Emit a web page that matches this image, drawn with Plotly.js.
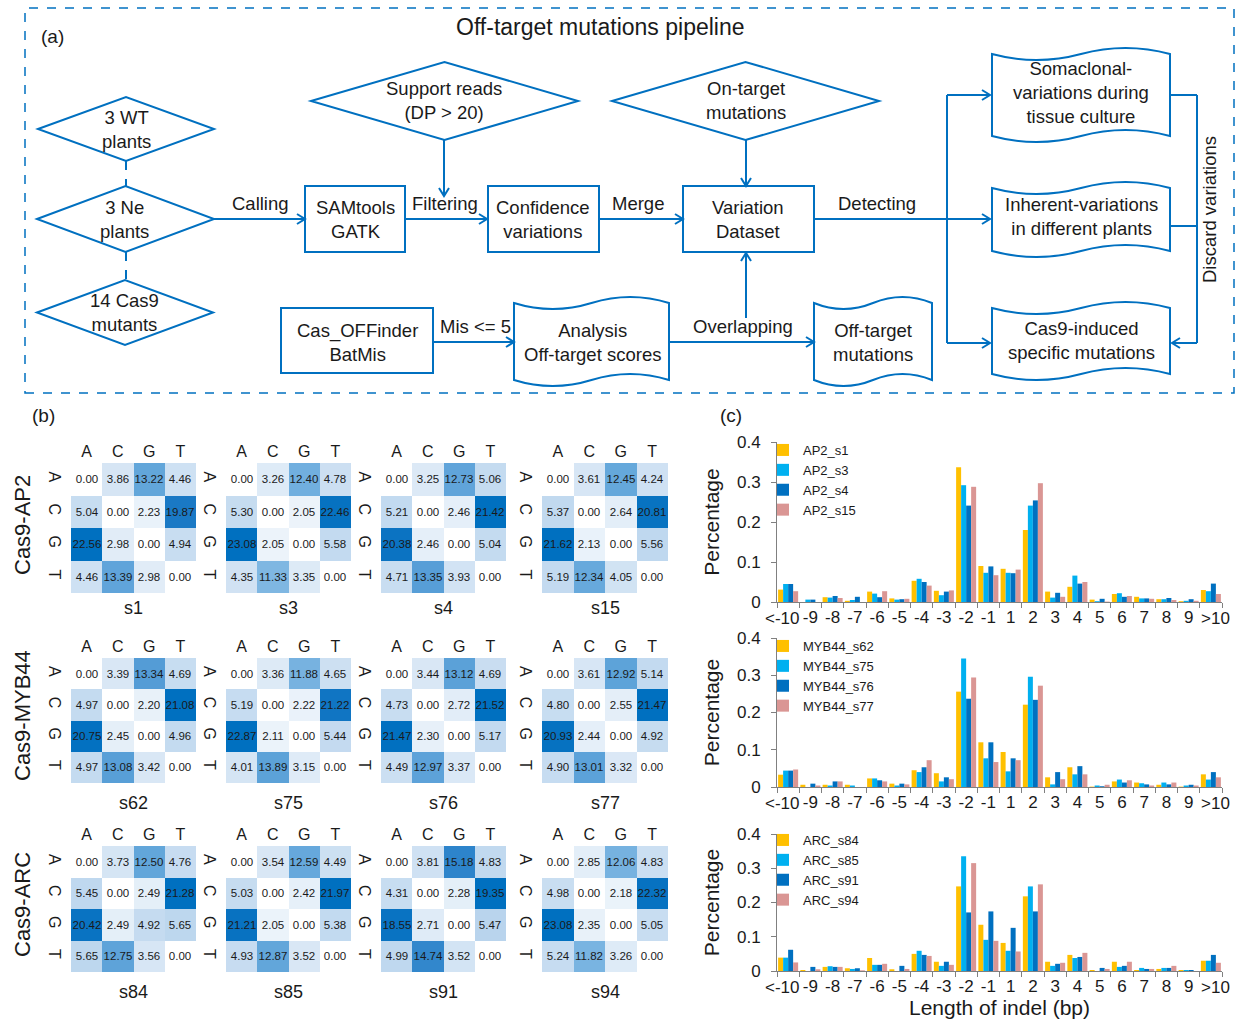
<!DOCTYPE html>
<html><head><meta charset="utf-8">
<script src="https://cdn.plot.ly/plotly-3.0.1.min.js"></script>
<style>html,body{margin:0;padding:0;background:#fff}#chart{width:1238px;height:1021px}</style>
</head><body><div id="chart"></div>
<script>
// ---------- DATA ----------
const bases = ['A','C','G','T'];
const groupNames = ['Cas9-AP2','Cas9-MYB44','Cas9-ARC'];
const sampleNames = ['s1','s3','s4','s15','s62','s75','s76','s77','s84','s85','s91','s94'];
const s1  = [[0.00,3.86,13.22,4.46],[5.04,0.00,2.23,19.87],[22.56,2.98,0.00,4.94],[4.46,13.39,2.98,0.00]];
const s3  = [[0.00,3.26,12.40,4.78],[5.30,0.00,2.05,22.46],[23.08,2.05,0.00,5.58],[4.35,11.33,3.35,0.00]];
const s4  = [[0.00,3.25,12.73,5.06],[5.21,0.00,2.46,21.42],[20.38,2.46,0.00,5.04],[4.71,13.35,3.93,0.00]];
const s15 = [[0.00,3.61,12.45,4.24],[5.37,0.00,2.64,20.81],[21.62,2.13,0.00,5.56],[5.19,12.34,4.05,0.00]];
const s62 = [[0.00,3.39,13.34,4.69],[4.97,0.00,2.20,21.08],[20.75,2.45,0.00,4.96],[4.97,13.08,3.42,0.00]];
const s75 = [[0.00,3.36,11.88,4.65],[5.19,0.00,2.22,21.22],[22.87,2.11,0.00,5.44],[4.01,13.89,3.15,0.00]];
const s76 = [[0.00,3.44,13.12,4.69],[4.73,0.00,2.72,21.52],[21.47,2.30,0.00,5.17],[4.49,12.97,3.37,0.00]];
const s77 = [[0.00,3.61,12.92,5.14],[4.80,0.00,2.55,21.47],[20.93,2.44,0.00,4.92],[4.90,13.01,3.32,0.00]];
const s84 = [[0.00,3.73,12.50,4.76],[5.45,0.00,2.49,21.28],[20.42,2.49,4.92,5.65],[5.65,12.75,3.56,0.00]];
const s85 = [[0.00,3.54,12.59,4.49],[5.03,0.00,2.42,21.97],[21.21,2.05,0.00,5.38],[4.93,12.87,3.52,0.00]];
const s91 = [[0.00,3.81,15.18,4.83],[4.31,0.00,2.28,19.35],[18.55,2.71,0.00,5.47],[4.99,14.74,3.52,0.00]];
const s94 = [[0.00,2.85,12.06,4.83],[4.98,0.00,2.18,22.32],[23.08,2.35,0.00,5.05],[5.24,11.82,3.26,0.00]];
const matrices = [s1,s3,s4,s15,s62,s75,s76,s77,s84,s85,s91,s94];

const indelLengths = ['<-10','-9','-8','-7','-6','-5','-4','-3','-2','-1','1','2','3','4','5','6','7','8','9','>10'];
const AP2_s1  = [0.031,0.000,0.012,0.003,0.026,0.009,0.053,0.028,0.337,0.090,0.083,0.180,0.026,0.038,0.006,0.020,0.013,0.007,0.002,0.030];
const AP2_s3  = [0.045,0.006,0.011,0.005,0.021,0.006,0.058,0.017,0.292,0.073,0.073,0.241,0.011,0.066,0.002,0.022,0.009,0.007,0.003,0.027];
const AP2_s4  = [0.045,0.006,0.015,0.013,0.012,0.007,0.050,0.026,0.241,0.089,0.072,0.254,0.023,0.046,0.008,0.013,0.009,0.010,0.007,0.046];
const AP2_s15 = [0.027,0.000,0.010,0.000,0.027,0.008,0.041,0.029,0.288,0.067,0.081,0.297,0.013,0.050,0.001,0.015,0.008,0.005,0.003,0.020];
const MYB44_s62 = [0.033,0.006,0.006,0.006,0.023,0.009,0.045,0.037,0.256,0.120,0.094,0.221,0.026,0.053,0.001,0.015,0.012,0.006,0.001,0.034];
const MYB44_s75 = [0.044,0.000,0.004,0.004,0.023,0.004,0.040,0.015,0.345,0.077,0.042,0.296,0.007,0.034,0.004,0.020,0.010,0.012,0.004,0.020];
const MYB44_s76 = [0.044,0.009,0.015,0.000,0.018,0.009,0.053,0.026,0.237,0.120,0.077,0.234,0.040,0.056,0.002,0.012,0.007,0.007,0.006,0.040];
const MYB44_s77 = [0.047,0.004,0.015,0.000,0.015,0.007,0.072,0.021,0.294,0.067,0.072,0.272,0.021,0.034,0.006,0.018,0.004,0.012,0.004,0.026];
const ARC_s84 = [0.039,0.003,0.012,0.008,0.038,0.005,0.050,0.027,0.247,0.135,0.082,0.218,0.027,0.047,0.003,0.027,0.003,0.006,0.003,0.030];
const ARC_s85 = [0.039,0.000,0.014,0.006,0.018,0.000,0.059,0.015,0.335,0.091,0.059,0.247,0.015,0.038,0.000,0.012,0.009,0.009,0.003,0.030];
const ARC_s91 = [0.062,0.012,0.012,0.008,0.018,0.015,0.047,0.027,0.171,0.174,0.126,0.174,0.021,0.041,0.009,0.015,0.006,0.009,0.003,0.047];
const ARC_s94 = [0.025,0.005,0.012,0.002,0.021,0.006,0.044,0.018,0.315,0.088,0.057,0.253,0.024,0.053,0.006,0.027,0.006,0.015,0.000,0.024];
const seriesNames = [['AP2_s1','AP2_s3','AP2_s4','AP2_s15'],['MYB44_s62','MYB44_s75','MYB44_s76','MYB44_s77'],['ARC_s84','ARC_s85','ARC_s91','ARC_s94']];
const seriesValues = [[AP2_s1,AP2_s3,AP2_s4,AP2_s15],[MYB44_s62,MYB44_s75,MYB44_s76,MYB44_s77],[ARC_s84,ARC_s85,ARC_s91,ARC_s94]];

// ---------- STYLE / LAYOUT HELPERS ----------
const W = 1238, H = 1021;
const X = p => p / W, Y = p => 1 - p / H;
const FONT = 'Liberation Sans, Arial, Helvetica, sans-serif';
const BLUE = '#0070c0';
const barColors = ['#ffc000','#00b0f0','#0070c0','#da9694'];
const hmScale = [[0,'#ffffff'],[0.08,'#eef5fb'],[0.15,'#dce9f6'],[0.22,'#c8ddf1'],[0.27,'#bcd6ee'],[0.5,'#7db6e2'],[0.58,'#64a7db'],[0.7,'#3f8fd0'],[0.82,'#2580c9'],[0.9,'#1677c4'],[1,'#0070c0']];

const hmCols = [[71,196],[226,351],[381,506],[542,668]];
const hmRows = [[463,593],[658,783],[846,972]];
const hmLabelY = [608,803,992];
const groupLabelY = [525,716,905];

// end tick labels of the indel axis are drawn as nudged annotations (as in the reference, to avoid overlap)
const lastIdx = indelLengths.length - 1;
const indelTickText = indelLengths.map((t, i) => (i === 0 || i === lastIdx) ? '' : t);

const data = [];
const layout = {
  width: W, height: H, margin: {l:0,r:0,t:0,b:0},
  paper_bgcolor: '#ffffff', plot_bgcolor: 'rgba(0,0,0,0)',
  font: {family: FONT, color: '#1a1a1a'},
  showlegend: true, barmode: 'group', bargap: 0.1, bargroupgap: 0,
  shapes: [], annotations: []
};

// Heatmaps
matrices.forEach((m, i) => {
  const r = Math.floor(i / 4), c = i % 4, n = i + 1;
  data.push({
    type: 'heatmap', z: m, x: bases, y: bases,
    xaxis: 'x' + n, yaxis: 'y' + n,
    colorscale: hmScale, showscale: false, zmin: 0,
    texttemplate: '%{z:.2f}', textfont: {size: 11.5, color: '#1a1a1a', family: FONT},
    hoverinfo: 'skip', showlegend: false
  });
  layout['xaxis' + n] = {domain: [X(hmCols[c][0]), X(hmCols[c][1])], anchor: 'y' + n, side: 'top',
    type: 'category', showgrid: false, zeroline: false, showline: false, ticks: '', ticklabelstandoff: 2,
    tickfont: {size: 16, color: '#1a1a1a'}, fixedrange: true};
  layout['yaxis' + n] = {domain: [Y(hmRows[r][1]), Y(hmRows[r][0])], anchor: 'x' + n,
    type: 'category', autorange: 'reversed', showgrid: false, zeroline: false, showline: false, ticks: '',
    ticklabelstandoff: 5,
    tickangle: 90, tickfont: {size: 16, color: '#1a1a1a'}, fixedrange: true};
  layout.annotations.push({xref: 'x' + n + ' domain', x: 0.5, yref: 'paper', y: Y(hmLabelY[r]),
    text: sampleNames[i], showarrow: false, font: {size: 18}, xanchor: 'center', yanchor: 'middle'});
});
groupNames.forEach((g, r) => {
  layout.annotations.push({xref: 'paper', yref: 'paper', x: X(22), y: Y(groupLabelY[r]), text: g,
    textangle: -90, showarrow: false, font: {size: 22}, xanchor: 'center', yanchor: 'middle'});
});

// Bar charts
const barRows = [[442,602],[638,787],[834,971]];
const legendTop = [435,631,825];
seriesValues.forEach((grp, r) => {
  const n = 13 + r;
  const leg = r === 0 ? 'legend' : 'legend' + (r + 1);
  grp.forEach((vals, k) => {
    data.push({type: 'bar', x: indelLengths, y: vals, name: seriesNames[r][k],
      xaxis: 'x' + n, yaxis: 'y' + n, legend: leg,
      marker: {color: barColors[k], line: {width: 0}}, hoverinfo: 'skip'});
  });
  layout['xaxis' + n] = {domain: [X(777), X(1222)], anchor: 'y' + n, type: 'category',
    range: [-0.5, lastIdx + 0.5], autorange: false,
    tickmode: 'array', tickvals: indelLengths, ticktext: indelTickText,
    showline: true, linecolor: '#808080', linewidth: 1, ticks: 'outside', tickson: 'boundaries',
    ticklen: 5, tickcolor: '#808080', showgrid: false, zeroline: false, tickangle: 0,
    tickfont: {size: 17, color: '#1a1a1a'}, fixedrange: true};
  layout['yaxis' + n] = {domain: [Y(barRows[r][1]), Y(barRows[r][0])], anchor: 'x' + n,
    range: [0, 0.4], dtick: 0.1, tick0: 0, showline: true, linecolor: '#808080', linewidth: 1,
    ticks: 'outside', ticklen: 5, tickcolor: '#808080', showgrid: false, zeroline: false,
    ticklabelstandoff: 7,
    tickfont: {size: 17, color: '#1a1a1a'},
    title: {text: 'Percentage', font: {size: 21, color: '#1a1a1a'}, standoff: 11}, fixedrange: true};
  layout[leg] = {x: X(763), y: Y(legendTop[r]), xanchor: 'left', yanchor: 'top',
    bgcolor: 'rgba(0,0,0,0)', font: {size: 13, color: '#1a1a1a'}, tracegroupgap: 0, itemwidth: 30};
  // end tick labels
  [[0, -6], [lastIdx, 5]].forEach(([idx, shift]) => {
    layout.annotations.push({xref: 'x' + n, x: idx, yref: 'y' + n + ' domain', y: 0, yanchor: 'top', yshift: -5,
      xanchor: 'center', xshift: shift, text: indelLengths[idx], showarrow: false,
      font: {size: 17, color: '#1a1a1a'}});
  });
});
layout.xaxis15.title = {text: 'Length of indel (bp)', font: {size: 21, color: '#1a1a1a'}, standoff: 4};

// Panel labels
[['(a)',52,37],['(b)',43,415],['(c)',731,415]].forEach(([t,x,y]) => {
  layout.annotations.push({xref:'paper',yref:'paper',x:X(x),y:Y(y),text:t,showarrow:false,font:{size:19},xanchor:'center',yanchor:'middle'});
});

// ---------- FLOWCHART (diagram shapes in paper coordinates) ----------
const P = (x, y) => X(x) + ',' + Y(y);
const S = layout.shapes, A = layout.annotations;
const ln = {color: BLUE, width: 2};
function seg(x0,y0,x1,y1,dash){ S.push({type:'line',xref:'paper',yref:'paper',x0:X(x0),y0:Y(y0),x1:X(x1),y1:Y(y1),line:Object.assign({},ln,dash?{dash:'dash'}:{})}); }
function head(tx,ty,dx,dy){ const L=8,Wd=5, px=-dy, py=dx;
  S.push({type:'path',xref:'paper',yref:'paper',line:ln,
    path:'M'+P(tx-L*dx+Wd*px,ty-L*dy+Wd*py)+' L'+P(tx,ty)+' L'+P(tx-L*dx-Wd*px,ty-L*dy-Wd*py)}); }
function arrow(x0,y0,x1,y1){ seg(x0,y0,x1,y1); const d=Math.hypot(x1-x0,y1-y0); head(x1,y1,(x1-x0)/d,(y1-y0)/d); }
function box(x0,y0,x1,y1){ S.push({type:'rect',xref:'paper',yref:'paper',x0:X(x0),y0:Y(y1),x1:X(x1),y1:Y(y0),line:ln,fillcolor:'rgba(0,0,0,0)'}); }
function diamond(x0,y0,x1,y1){ const cx=(x0+x1)/2, cy=(y0+y1)/2;
  S.push({type:'path',xref:'paper',yref:'paper',line:ln,path:'M'+P(x0,cy)+' L'+P(cx,y0)+' L'+P(x1,cy)+' L'+P(cx,y1)+' Z'}); }
function doc(x0,y0,x1,y1){ const a=6, w=x1-x0, xm=(x0+x1)/2;
  S.push({type:'path',xref:'paper',yref:'paper',line:ln,
    path:'M'+P(x0,y0)+' Q'+P(x0+w/4,y0+2*a)+' '+P(xm,y0)+' T'+P(x1,y0)+' L'+P(x1,y1)+' Q'+P(x1-w/4,y1-2*a)+' '+P(xm,y1)+' T'+P(x0,y1)+' Z'}); }
const FS = 18.5;
function txt(t,x,y,size,angle){ A.push({xref:'paper',yref:'paper',x:X(x),y:Y(y),text:t,showarrow:false,font:{size:size||FS},xanchor:'center',yanchor:'middle',textangle:angle||0}); }

S.push({type:'rect',xref:'paper',yref:'paper',x0:X(25),y0:Y(393),x1:X(1234),y1:Y(8),line:{color:BLUE,width:1.5,dash:'dash'}});
diamond(38,97,214,161); diamond(37,186,214,252); diamond(37,280,213,345);
diamond(311,62,578,140); diamond(612,62,879,140);
seg(126,161,126,186,true); seg(126,252,126,280,true);
box(305,186,405,252); box(488,186,599,252); box(683,186,814,252); box(281,308,433,373);
doc(992,54,1170,136); doc(992,188,1170,251); doc(992,308,1170,374); doc(514,303,669,380); doc(814,303,932,380);
arrow(214,219,305,219); arrow(405,219,487,219); arrow(444,140,444,196);
arrow(599,219,683,219); arrow(746,140,746,186);
seg(814,219,947,219); seg(947,95,947,343);
arrow(947,95,990,95); arrow(947,219,990,219); arrow(947,343,990,343);
seg(1170,95,1197,95); seg(1170,226,1197,226); seg(1197,95,1197,343); arrow(1197,343,1172,343);
arrow(433,342,514,342); arrow(669,342,814,342); arrow(746,318,746,253);

txt('Off-target mutations pipeline',600,27,23);
txt('3 WT<br>plants',126,129); txt('3 Ne<br>plants',125,219); txt('14 Cas9<br>mutants',125,312);
txt('Support reads<br>(DP > 20)',444,101); txt('On-target<br>mutations',746,101);
txt('SAMtools<br>GATK',355,219); txt('Confidence<br>variations',543,219); txt('Variation<br>Dataset',748,219);
txt('Cas_OFFinder<br>BatMis',357,342); txt('Analysis<br>Off-target scores',592,342); txt('Off-target<br>mutations',873,342);
txt('Somaclonal-<br>variations during<br>tissue culture',1081,93);
txt('Inherent-variations<br>in different plants',1081,217);
txt('Cas9-induced<br>specific mutations',1081,340);
txt('Calling',260,204); txt('Filtering',445,204); txt('Merge',638,204); txt('Detecting',877,204);
txt('Mis <= 5',475,327); txt('Overlapping',743,327);
txt('Discard variations',1209,210,FS,-90);

Plotly.newPlot('chart', data, layout, {staticPlot: true, displayModeBar: false});
</script></body></html>
